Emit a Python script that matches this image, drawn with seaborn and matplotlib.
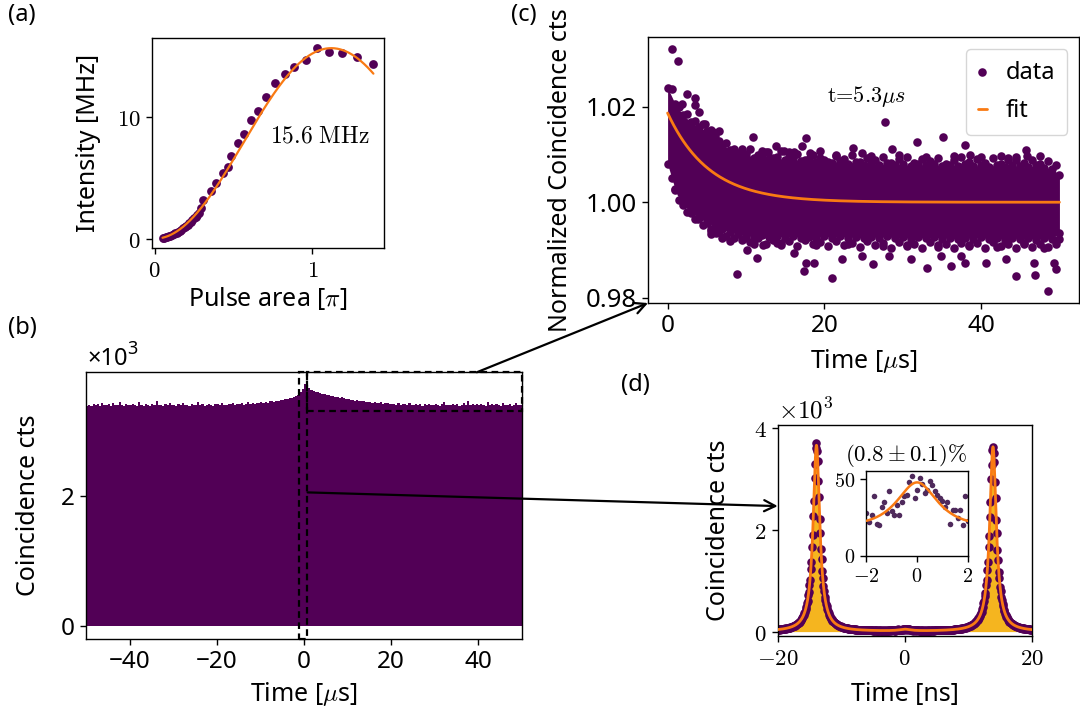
import numpy as np
import pandas as pd
import matplotlib
matplotlib.use("Agg")
import matplotlib.pyplot as plt
import seaborn as sns
from matplotlib.ticker import FuncFormatter, FixedLocator
from matplotlib.patches import Rectangle, ConnectionPatch

# ---------------------------------------------------------------- data
# (a) saturation curve
pulse_area = [0.05, 0.06, 0.07, 0.08, 0.09, 0.10, 0.11, 0.12, 0.13, 0.14,
              0.15, 0.16, 0.17, 0.18, 0.19, 0.20, 0.21, 0.22, 0.23, 0.24,
              0.25, 0.26, 0.27, 0.28, 0.292, 0.309, 0.355, 0.387, 0.436, 0.467,
              0.486, 0.529, 0.567, 0.613, 0.655, 0.708, 0.761, 0.825, 0.884,
              0.962, 1.027, 1.106, 1.190, 1.281, 1.387]
intensity = [0.02, 0.06, 0.10, 0.14, 0.19, 0.24, 0.30, 0.36, 0.43, 0.50,
             0.57, 0.65, 0.74, 0.84, 0.94, 1.04, 1.15, 1.27, 1.39, 1.52,
             1.66, 1.81, 1.97, 2.14, 2.53, 3.13, 3.94, 4.57, 5.38, 5.87,
             6.74, 7.83, 8.56, 9.73, 10.46, 11.63, 12.77, 13.48, 14.08,
             14.62, 15.65, 15.30, 15.24, 14.84, 14.27]
RABI_MAX = 15.6      # MHz
PI_AREA = 1.12       # pulse area of the maximum

# (b) coincidence histogram, 0.5 us bins from -50 to 50 us
coinc_us = [
    3395, 3410, 3388, 3420, 3402, 3415, 3391, 3440, 3405, 3398, 3412, 3385, 3430, 3408, 3396, 3455, 3401, 3392, 3418, 3404,
    3399, 3425, 3410, 3387, 3445, 3403, 3394, 3416, 3400, 3389, 3421, 3408, 3460, 3398, 3410, 3392, 3415, 3403, 3428, 3396,
    3405, 3390, 3418, 3402, 3435, 3399, 3411, 3394, 3424, 3406, 3397, 3450, 3403, 3415, 3392, 3408, 3420, 3401, 3395, 3412,
    3418, 3404, 3430, 3410, 3399, 3425, 3412, 3440, 3408, 3420, 3415, 3432, 3411, 3426, 3445, 3418, 3430, 3422, 3438, 3428,
    3442, 3435, 3450, 3440, 3458, 3462, 3455, 3470, 3468, 3480, 3476, 3490, 3498, 3505, 3512, 3525, 3540, 3560, 3600, 3650,
    3720, 3690, 3660, 3640, 3625, 3610, 3600, 3590, 3575, 3580, 3560, 3552, 3545, 3548, 3530, 3525, 3515, 3520, 3505, 3498,
    3490, 3485, 3478, 3470, 3475, 3462, 3458, 3466, 3450, 3445, 3452, 3440, 3448, 3436, 3430, 3442, 3425, 3432, 3428, 3420,
    3418, 3425, 3410, 3430, 3405, 3415, 3420, 3402, 3440, 3410, 3406, 3418, 3400, 3412, 3395, 3425, 3408, 3416, 3398, 3411,
    3420, 3404, 3395, 3412, 3450, 3401, 3410, 3398, 3422, 3405, 3415, 3392, 3408, 3430, 3400, 3460, 3405, 3412, 3396, 3418,
    3402, 3425, 3410, 3390, 3445, 3403, 3412, 3398, 3420, 3405, 3395, 3430, 3408, 3400, 3415, 3392, 3410, 3440, 3405, 3398,
]

# (c) normalized coincidences: edges of the dense cloud (1 us steps) ...
env_time = list(range(0, 51))
env_upper = [1.0240, 1.0205, 1.0182, 1.0168, 1.0157, 1.0150, 1.0138, 1.0120, 1.0110, 1.0104,
             1.0102, 1.0093, 1.0096, 1.0090, 1.0094, 1.0088, 1.0092, 1.0086, 1.0090, 1.0084,
             1.0088, 1.0083, 1.0086, 1.0081, 1.0085, 1.0079, 1.0083, 1.0078, 1.0082, 1.0077,
             1.0081, 1.0076, 1.0080, 1.0077, 1.0081, 1.0075, 1.0079, 1.0076, 1.0080, 1.0075,
             1.0078, 1.0074, 1.0079, 1.0073, 1.0077, 1.0075, 1.0073, 1.0077, 1.0072, 1.0070,
             1.0058]
env_lower = [1.0080, 1.0025, 0.9995, 0.9978, 0.9967, 0.9957, 0.9950, 0.9943, 0.9937, 0.9933,
             0.9930, 0.9928, 0.9931, 0.9927, 0.9930, 0.9926, 0.9929, 0.9925, 0.9928, 0.9925,
             0.9929, 0.9926, 0.9930, 0.9925, 0.9928, 0.9924, 0.9928, 0.9925, 0.9929, 0.9924,
             0.9927, 0.9923, 0.9927, 0.9924, 0.9928, 0.9923, 0.9926, 0.9922, 0.9926, 0.9923,
             0.9927, 0.9922, 0.9925, 0.9921, 0.9926, 0.9922, 0.9925, 0.9921, 0.9924, 0.9922,
             0.9936]
# ... points sitting on the fringe of the cloud (half-integer us) ...
fringe_time = [t + 0.5 for t in range(0, 50)]
fringe_upper = [1.0238, 1.0200, 1.0185, 1.0170, 1.0165, 1.0152, 1.0128, 1.0125, 1.0112, 1.0106,
                1.0112, 1.0098, 1.0105, 1.0092, 1.0108, 1.0095, 1.0101, 1.0089, 1.0098, 1.0093,
                1.0085, 1.0097, 1.0090, 1.0099, 1.0084, 1.0092, 1.0088, 1.0095, 1.0083, 1.0091,
                1.0094, 1.0082, 1.0090, 1.0086, 1.0093, 1.0081, 1.0089, 1.0095, 1.0084, 1.0090,
                1.0083, 1.0092, 1.0080, 1.0088, 1.0094, 1.0082, 1.0089, 1.0081, 1.0087, 1.0078]
fringe_lower = [1.0050, 1.0005, 0.9980, 0.9965, 0.9952, 0.9940, 0.9938, 0.9930, 0.9925, 0.9920,
                0.9917, 0.9924, 0.9913, 0.9920, 0.9911, 0.9918, 0.9909, 0.9921, 0.9912, 0.9916,
                0.9908, 0.9919, 0.9910, 0.9915, 0.9906, 0.9918, 0.9911, 0.9914, 0.9905, 0.9917,
                0.9909, 0.9913, 0.9904, 0.9916, 0.9910, 0.9912, 0.9903, 0.9915, 0.9908, 0.9914,
                0.9905, 0.9917, 0.9909, 0.9912, 0.9904, 0.9915, 0.9907, 0.9913, 0.9906, 0.9912]
# ... and isolated points further out
scatter_time = [0.61, 1.35, 2.49, 3.54, 3.45, 4.76, 5.85, 10.9, 13.8, 12.8, 14.8, 16.1, 17.2, 17.7,
                19.5, 23.6, 24.8, 27.7, 28.6, 31.8, 35.2, 37.9, 38.6, 42.5, 45.7, 45.8, 44.5,
                9.5, 12.0, 15.5, 18.2, 21.5, 26.0, 29.5, 33.0, 36.5, 40.0, 43.5, 47.5, 6.5, 4.0, 1.8,
                8.9, 21.0, 48.5, 44.4, 33.1, 36.2, 26.2, 24.8, 17.4, 17.6, 18.7, 16.1, 11.4, 10.1,
                9.6, 5.5, 5.5, 3.9, 3.4, 4.3, 1.7, 1.0, 31.0, 37.9, 40.6, 43.2, 46.7, 49.3, 49.5,
                50.0, 46.9, 37.5, 34.9, 28.3, 22.2, 13.9, 12.2,
                11.0, 14.5, 19.0, 23.0, 27.5, 30.5, 34.5, 38.5, 42.0, 45.5, 48.0, 7.0, 8.0, 6.2]
scatter_norm = [1.0321, 1.0297, 1.0227, 1.0219, 1.0203, 1.0163, 1.0147, 1.0137, 1.0117, 1.0105,
                1.0107, 1.0105, 1.0117, 1.0135, 1.0107, 1.0114, 1.0103, 1.0168, 1.0112, 1.0126,
                1.0136, 1.0119, 1.0100, 1.0096, 1.0110, 1.0096, 1.0089,
                1.0112, 1.0108, 1.0105, 1.0103, 1.0098, 1.0096, 1.0099, 1.0094, 1.0097, 1.0095,
                1.0093, 1.0096, 1.0150, 1.0190, 1.0205,
                0.9850, 0.9841, 0.9814, 0.9846, 0.9862, 0.9866, 0.9870, 0.9887, 0.9855, 0.9873,
                0.9873, 0.9894, 0.9883, 0.9899, 0.9923, 0.9934, 0.9943, 0.9964, 0.9986, 0.9976,
                1.0020, 1.0028, 0.9880, 0.9873, 0.9873, 0.9880, 0.9873, 0.9873, 0.9859,
                0.9922, 0.9848, 0.9887, 0.9887, 0.9887, 0.9880, 0.9915, 0.9911,
                0.9912, 0.9915, 0.9910, 0.9913, 0.9908, 0.9911, 0.9906, 0.9910, 0.9907, 0.9912,
                0.9905, 0.9925, 0.9918, 0.9935]
DECAY_AMP = 0.0187
DECAY_TIME = 5.3     # us

# (d) coincidences around zero delay, 0.1 ns bins from -20 to 20 ns
ns_left_tail = [41, 36, 44, 40, 47, 43, 50, 45, 55, 49, 58, 54, 63, 58, 69, 64, 74, 70, 80, 77,
                88, 85, 97, 94, 108, 104, 119, 117, 133, 131, 150, 150, 170, 171, 195, 198]
ns_left_peak = [224, 230, 262, 270, 310, 322, 371, 389, 452, 478,
                560, 601, 710, 772, 921, 1015, 1226, 1370, 1662, 1885,
                2270, 2568, 3010, 3282, 3595, 3690, 3540, 3345, 2948, 2630,
                2210, 1940, 1610, 1418, 1182, 1052, 888, 801, 683, 624,
                539, 497, 435, 404, 356, 334, 297, 281, 251, 239, 214]
ns_left_gap = [205, 186, 181, 163, 159, 143, 141, 127, 126, 114,
               113, 102, 103, 94, 93, 85, 86, 78, 79, 71,
               73, 65, 67, 60, 63, 56, 58, 52, 55, 49,
               51, 46, 48, 43, 46, 41, 43, 38, 41, 36,
               39, 35, 37, 33, 35, 31, 34, 30, 33, 28,
               31, 27, 30, 26, 29, 25, 28, 24, 27, 23,
               26, 22, 25, 21, 24, 21, 24, 20, 23, 21,
               23, 20, 22, 19, 22, 19, 21, 20, 23, 19,
               22, 18, 21, 20, 22, 19, 23, 20, 22, 21, 24, 20, 23]
ns_center = [28, 22, 27, 39, 21, 20, 32, 35, 28, 42,
             29, 27, 33, 27, 35, 39, 40, 48, 52, 38,
             43, 51, 47, 41, 43, 49, 46, 42, 40, 38,
             36, 32, 35, 21, 30, 30, 25, 30, 20, 39, 23]
ns_right_gap = [23, 20, 24, 21, 22, 19, 23, 21, 20, 22,
                21, 19, 22, 20, 21, 19, 23, 20, 22, 21,
                22, 20, 23, 21, 24, 21, 23, 22, 25, 22,
                25, 22, 26, 23, 27, 24, 28, 25, 29, 26,
                30, 27, 31, 28, 33, 30, 34, 31, 36, 33,
                37, 34, 38, 36, 40, 38, 43, 40, 45, 43,
                47, 44, 50, 47, 53, 51, 57, 55, 61, 59,
                66, 63, 71, 70, 77, 76, 84, 83, 92, 93,
                101, 102, 112, 114, 126, 128, 141, 143, 158, 163, 180, 187, 207]
ns_right_peak = [219, 228, 259, 268, 306, 319, 366, 386, 447, 474,
                 556, 596, 705, 764, 913, 1006, 1215, 1358, 1650, 1868,
                 2252, 2547, 2985, 3256, 3566, 3620, 3505, 3318, 2924, 2609,
                 2192, 1925, 1597, 1407, 1173, 1044, 881, 795, 677, 619,
                 535, 493, 431, 401, 353, 331, 295, 278, 249, 237, 212]
ns_right_tail = [196, 191, 169, 167, 149, 147, 131, 130, 117, 116, 104, 105, 94, 95, 85, 86, 77, 78,
                 70, 72, 64, 66, 59, 61, 54, 56, 50, 52, 46, 49, 43, 46, 40, 43, 37, 40]
# Lorentzian fit: (position ns, height, half width ns)
FIT_PEAKS = [(-13.9, 3650, 0.63), (13.9, 3620, 0.63), (0.0, 33, 1.04)]

# ---------------------------------------------------------------- style
PURPLE = "#520056"
ORANGE = "#f97a13"
GOLD = "#f5b51f"
INSET_PURPLE = "#4f2a5c"

sns.set_theme(style="ticks", rc={
    "axes.edgecolor": "black", "axes.labelcolor": "black", "text.color": "black",
    "xtick.color": "black", "ytick.color": "black", "axes.linewidth": 1.0,
    "xtick.major.width": 1.0, "ytick.major.width": 1.0,
    "xtick.major.size": 4.5, "ytick.major.size": 4.5,
    "mathtext.fontset": "cm", "axes.unicode_minus": True,
})
plt.rcParams["font.family"] = ["Noto Sans", "DejaVu Sans"]

LABEL_FS = 18
TICK_FS = 17.5
CM_TICK_FS = 16.5
cm_fmt = FuncFormatter(lambda v, p: f"${v:g}$")

fig = plt.figure(figsize=(10.8, 7.09), dpi=100)
ax_a = fig.add_axes([0.1407, 0.6502, 0.2148, 0.2962])
ax_c = fig.add_axes([0.6000, 0.5726, 0.3991, 0.3752])
ax_b = fig.add_axes([0.0796, 0.0994, 0.4034, 0.3755])
ax_d = fig.add_axes([0.7201, 0.1034, 0.2352, 0.2972])
ax_in = fig.add_axes([0.8023, 0.2158, 0.0937, 0.1192])

# ---------------------------------------------------------------- (a)
sns.scatterplot(x=pulse_area, y=intensity, ax=ax_a, color=PURPLE, s=40, linewidth=0, zorder=2)
theta = np.linspace(pulse_area[0], pulse_area[-1], 300)
sns.lineplot(x=theta, y=RABI_MAX * np.sin(np.pi * theta / (2 * PI_AREA)) ** 2,
             ax=ax_a, color=ORANGE, linewidth=1.6, zorder=3)
ax_a.xaxis.set_major_locator(FixedLocator([0, 1]))
ax_a.yaxis.set_major_locator(FixedLocator([0, 10]))
ax_a.xaxis.set_major_formatter(cm_fmt)
ax_a.yaxis.set_major_formatter(cm_fmt)
ax_a.tick_params(labelsize=CM_TICK_FS)
ax_a.text(0.73, 8.4, r"$15.6\ \mathrm{MHz}$", fontsize=17, va="center")
ax_a.set_xlabel(r"Pulse area [$\pi$]", fontsize=LABEL_FS)
ax_a.set_ylabel("Intensity [MHz]", fontsize=LABEL_FS)
ax_a.yaxis.set_label_coords(-0.22, 0.5)
ax_a.xaxis.set_label_coords(0.5, -0.175)

# ---------------------------------------------------------------- (b)
edges_b = np.linspace(-50, 50, len(coinc_us) + 1)
hist_b = pd.DataFrame({"time": 0.5 * (edges_b[:-1] + edges_b[1:]), "counts": coinc_us})
sns.histplot(data=hist_b, x="time", weights="counts", bins=len(coinc_us), binrange=(-50, 50),
             element="step", fill=True, color=PURPLE, alpha=1, linewidth=0, ax=ax_b)
ax_b.set_xlim(-50, 50)
ax_b.set_ylim(-186, 3906)
ax_b.xaxis.set_major_locator(FixedLocator([-40, -20, 0, 20, 40]))
ax_b.yaxis.set_major_locator(FixedLocator([0, 2000]))
ax_b.yaxis.set_major_formatter(FuncFormatter(lambda v, p: f"{v / 1000:g}"))
ax_b.tick_params(labelsize=TICK_FS)
fig.text(87 / 1080, 1 - 365 / 709, "×10", fontsize=17, ha="left", va="baseline")
fig.text(127 / 1080, 1 - 354 / 709, "3", fontsize=13, ha="left", va="baseline")
ax_b.set_xlabel(r"Time [$\mu$s]", fontsize=LABEL_FS)
ax_b.set_ylabel("Coincidence cts", fontsize=LABEL_FS)
ax_b.yaxis.set_label_coords(-0.103, 0.5)
ax_b.xaxis.set_label_coords(0.5, -0.156)
y0, y1 = ax_b.get_ylim()
dash = dict(fill=False, edgecolor="black", linestyle=(0, (3, 2)), linewidth=1.6,
            clip_on=False, zorder=6)
ax_b.add_patch(Rectangle((-1.06, y0), 1.70, y1 - y0, **dash))
ax_b.add_patch(Rectangle((0.64, 3310), 49.36, y1 - 3310, **dash))

# ---------------------------------------------------------------- (c)
ax_c.fill_between(env_time, env_lower, env_upper, color=PURPLE, linewidth=0, zorder=2)
sns.scatterplot(x=np.concatenate([env_time, env_time, fringe_time, fringe_time, scatter_time]),
                y=np.concatenate([env_upper, env_lower, fringe_upper, fringe_lower, scatter_norm]),
                ax=ax_c, color=PURPLE, s=38, linewidth=0, zorder=2, label="data")
t_fit = np.linspace(0, 50, 500)
sns.lineplot(x=t_fit, y=1 + DECAY_AMP * np.exp(-t_fit / DECAY_TIME), ax=ax_c,
             color=ORANGE, linewidth=2, zorder=3, label="fit")
ax_c.xaxis.set_major_locator(FixedLocator([0, 20, 40]))
ax_c.yaxis.set_major_locator(FixedLocator([0.98, 1.00, 1.02]))
ax_c.yaxis.set_major_formatter(FuncFormatter(lambda v, p: f"{v:.2f}"))
ax_c.tick_params(axis="x", labelsize=TICK_FS)
ax_c.tick_params(axis="y", labelsize=18.5)
ax_c.text(20.3, 1.0222, r"t=5.3$\mu s$", fontfamily="cmr10", fontsize=16, va="center")
ax_c.legend(loc="upper right", fontsize=17, handlelength=0.4, handletextpad=0.8,
            borderpad=0.5, labelspacing=0.6)
ax_c.set_xlabel(r"Time [$\mu$s]", fontsize=LABEL_FS)
ax_c.set_ylabel("Normalized Coincidence cts", fontsize=LABEL_FS)
ax_c.yaxis.set_label_coords(-0.175, 0.5)
ax_c.xaxis.set_label_coords(0.5, -0.165)

# ---------------------------------------------------------------- (d)
counts_ns = np.concatenate([ns_left_tail, ns_left_peak, ns_left_gap, ns_center,
                            ns_right_gap, ns_right_peak, ns_right_tail])
assert len(counts_ns) == 401
time_ns = np.round(np.linspace(-20, 20, len(counts_ns)), 1)
hist_d = pd.DataFrame({"time": time_ns, "counts": counts_ns})


def lorentz_sum(t):
    return sum(h / (1 + ((t - c) / w) ** 2) for c, h, w in FIT_PEAKS)


sns.histplot(data=hist_d, x="time", weights="counts", bins=len(counts_ns),
             binrange=(-20.05, 20.05), element="step", fill=True,
             color=GOLD, alpha=1, linewidth=0, ax=ax_d, zorder=1)
sns.scatterplot(data=hist_d, x="time", y="counts", ax=ax_d, color=PURPLE, s=38,
                linewidth=0, zorder=2)
t_d = np.linspace(-20, 20, 4001)
sns.lineplot(x=t_d, y=lorentz_sum(t_d), ax=ax_d, color=ORANGE, linewidth=2, zorder=3)
ax_d.set_xlim(-20, 20)
ax_d.set_ylim(-80, 4050)
ax_d.xaxis.set_major_locator(FixedLocator([-20, 0, 20]))
ax_d.yaxis.set_major_locator(FixedLocator([0, 2000, 4000]))
ax_d.xaxis.set_major_formatter(cm_fmt)
ax_d.yaxis.set_major_formatter(FuncFormatter(lambda v, p: f"${v / 1000:g}$"))
ax_d.tick_params(labelsize=CM_TICK_FS)
ax_d.text(0.0, 1.033, r"$\times10^{3}$", transform=ax_d.transAxes, fontsize=18,
          ha="left", va="baseline")
ax_d.set_xlabel("Time [ns]", fontsize=LABEL_FS)
ax_d.set_ylabel("Coincidence cts", fontsize=LABEL_FS)
ax_d.yaxis.set_label_coords(-0.184, 0.5)
ax_d.xaxis.set_label_coords(0.5, -0.22)

# inset: zoom on zero delay
near_zero = hist_d[hist_d["time"].abs() <= 2.0]
sns.scatterplot(data=near_zero, x="time", y="counts", ax=ax_in, color=INSET_PURPLE,
                s=16, linewidth=0, zorder=2)
t_in = np.linspace(-2, 2, 400)
sns.lineplot(x=t_in, y=lorentz_sum(t_in), ax=ax_in, color=ORANGE, linewidth=1.8, zorder=3)
ax_in.set_xlim(-2, 2)
ax_in.set_ylim(0, 55)
ax_in.xaxis.set_major_locator(FixedLocator([-2, 0, 2]))
ax_in.yaxis.set_major_locator(FixedLocator([0, 50]))
ax_in.xaxis.set_major_formatter(cm_fmt)
ax_in.yaxis.set_major_formatter(cm_fmt)
ax_in.tick_params(labelsize=14.5)
ax_in.set_xlabel("")
ax_in.set_ylabel("")
ax_in.text(0.39, 1.03, r"$(0.8\pm0.1)\%$", transform=ax_in.transAxes, fontsize=16.5,
           ha="center", va="bottom")

# ---------------------------------------------------------------- connectors
arrow = dict(arrowstyle="->", color="black", linewidth=1.6, mutation_scale=20, zorder=10)
fig.add_artist(ConnectionPatch(xyA=(0.897, 1.0), coordsA=ax_b.transAxes,
                               xyB=(0.0, 0.0), coordsB=ax_c.transAxes, **arrow))
fig.add_artist(ConnectionPatch(xyA=(0.87, 2060), coordsA=ax_b.transData,
                               xyB=(0.0, 0.615), coordsB=ax_d.transAxes, **arrow))

# ---------------------------------------------------------------- panel letters
for letter, (px, py) in {"(a)": (8, 15), "(b)": (8, 328), "(c)": (511, 15), "(d)": (621, 385)}.items():
    fig.text(px / 1080, 1 - py / 709, letter, fontsize=17, ha="left", va="center")

fig.savefig("out.png", dpi=100)
